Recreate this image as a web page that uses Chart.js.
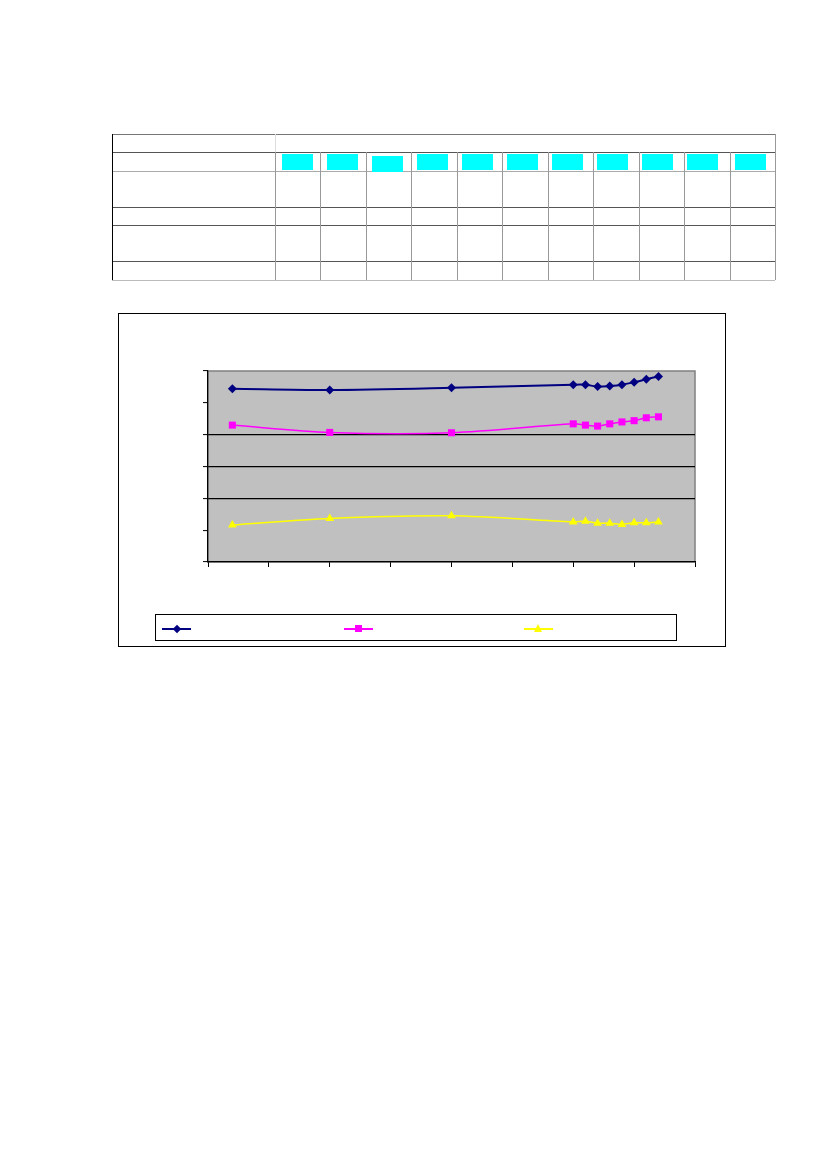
<!DOCTYPE html>
<html>
<head>
<meta charset="utf-8">
<script src="https://cdn.jsdelivr.net/npm/chart.js@4/dist/chart.umd.min.js"></script>
<style>
  html, body { margin: 0; padding: 0; background: #fff; }
  body { width: 826px; height: 1169px; position: relative; overflow: hidden; font-family: "Liberation Sans", Arial, sans-serif; }
  .ln { position: absolute; }
  .cy { position: absolute; background: #00ffff; }
  #chartBox { position: absolute; left: 118px; top: 313px; width: 606px; height: 332px; border: 1px solid #000; }
  #cw { position: absolute; left: 119px; top: 314px; width: 606px; height: 332px; }
  #legend { position: absolute; left: 155px; top: 614px; width: 520px; height: 25px; border: 1px solid #000; background: #fff; }
  .lgl { position: absolute; height: 1.5px; top: 13px; }
</style>
</head>
<body>
<div id="table"></div>
<div id="chartBox"></div>
<div id="cw"><canvas id="c"></canvas></div>
<div id="legend"></div>
<script>
// ---- data ----
const years = [1982, 1990, 2000, 2010, 2011, 2012, 2013, 2014, 2015, 2016, 2017];
const seriesA = [54.4, 54.0, 54.7, 55.7, 55.7, 55.1, 55.3, 55.7, 56.5, 57.4, 58.3];
const seriesB = [43.0, 40.7, 40.6, 43.4, 43.0, 42.7, 43.4, 44.0, 44.4, 45.3, 45.6];
const seriesC = [11.6, 13.7, 14.5, 12.6, 12.8, 12.2, 12.2, 11.8, 12.3, 12.3, 12.6];
const seriesNames = ['', '', ''];
const tableRowLabels = ['', '', '', '', '', ''];

// ---- table (empty cells, as in reference) ----
const T = document.getElementById('table');
function line(x, y, w, h, c) {
  const d = document.createElement('div');
  d.className = 'ln';
  d.style.cssText = `left:${x}px;top:${y}px;width:${w}px;height:${h}px;background:${c}`;
  T.appendChild(d);
}
const tl = 112, tr = 775, c0 = 274.5, cw = 45.5;
const rows = [[134, '#777'], [152, '#555'], [170.5, '#aaa'], [207, '#555'], [225, '#555'], [261, '#555'], [279.5, '#bbb']];
rows.forEach(([y, c]) => line(tl, y, tr - tl, 1.2, c));
line(tl, 134, 1.3, 146, '#000');
line(c0, 134, 1, 18, '#ddd');
for (let i = 0; i <= 11; i++) {
  line(c0 + i * cw, 152, 1.3, 128, '#999');
}
line(tr, 134, 1.3, 146, '#999');
const boxLefts = [282, 327, 372, 417, 462, 507, 552, 597, 642, 687, 735];
boxLefts.forEach((x, i) => {
  const d = document.createElement('div');
  d.className = 'cy';
  const top = i === 2 ? 155.5 : 154;
  d.style.cssText = `left:${x}px;top:${top}px;width:31px;height:16px`;
  T.appendChild(d);
});

// ---- legend ----
const L = document.getElementById('legend');
const legendItems = [
  { x: 6, color: '#000080', shape: 'diamond' },
  { x: 188, color: '#ff00ff', shape: 'square' },
  { x: 368, color: '#ffff00', shape: 'triangle' }
];
legendItems.forEach(it => {
  const l = document.createElement('div');
  l.className = 'lgl';
  l.style.cssText += `left:${it.x}px;width:29px;background:${it.color}`;
  L.appendChild(l);
  const m = document.createElement('div');
  m.style.position = 'absolute';
  const cx = it.x + 14.5, cy = 13.7;
  if (it.shape === 'diamond') {
    m.style.cssText += `left:${cx - 3}px;top:${cy - 3}px;width:6px;height:6px;background:${it.color};transform:rotate(45deg)`;
  } else if (it.shape === 'square') {
    m.style.cssText += `left:${cx - 3.5}px;top:${cy - 3.5}px;width:7px;height:7px;background:${it.color}`;
  } else {
    m.style.cssText += `left:${cx - 4.5}px;top:${cy - 5}px;width:0;height:0;border-left:4.5px solid transparent;border-right:4.5px solid transparent;border-bottom:8px solid ${it.color}`;
  }
  L.appendChild(m);
});

// ---- chart ----
const plotBg = {
  id: 'plotBg',
  beforeDraw(chart) {
    const { ctx, chartArea: a } = chart;
    ctx.save();
    ctx.fillStyle = '#c0c0c0';
    ctx.fillRect(a.left, a.top, a.right - a.left, a.bottom - a.top);
    ctx.strokeStyle = '#808080';
    ctx.lineWidth = 1.5;
    ctx.strokeRect(a.left, a.top, a.right - a.left, a.bottom - a.top);
    ctx.restore();
  }
};
function pts(vals) { return years.map((x, i) => ({ x, y: vals[i] })); }
new Chart(document.getElementById('c'), {
  type: 'line',
  data: {
    datasets: [
      { label: seriesNames[0], data: pts(seriesA), borderColor: '#000080', backgroundColor: '#000080', borderWidth: 2, pointStyle: 'rectRot', pointRadius: 4.5, pointBorderWidth: 0, tension: 0.3 },
      { label: seriesNames[1], data: pts(seriesB), borderColor: '#ff00ff', backgroundColor: '#ff00ff', borderWidth: 1.5, pointStyle: 'rect', pointRadius: 5, pointBorderWidth: 0, tension: 0.3 },
      { label: seriesNames[2], data: pts(seriesC), borderColor: '#ffff00', backgroundColor: '#ffff00', borderWidth: 1.5, pointStyle: 'triangle', pointRadius: 5, pointBorderWidth: 0, tension: 0.3 }
    ]
  },
  options: {
    responsive: true,
    maintainAspectRatio: false,
    animation: false,
    layout: { padding: { left: 89, top: 57, right: 30, bottom: 84 } },
    plugins: { legend: { display: false }, tooltip: { enabled: false }, title: { display: false } },
    scales: {
      x: {
        type: 'linear', min: 1980, max: 2020,
        ticks: { display: false, stepSize: 5 },
        grid: { drawOnChartArea: false, drawTicks: true, tickLength: 5, tickColor: '#000', tickWidth: 1 },
        border: { display: true, color: '#000', width: 1.2 },
        afterFit(s) { s.height = 0; }
      },
      y: {
        min: 0, max: 60,
        ticks: { display: false, stepSize: 10 },
        grid: {
          drawTicks: true, tickLength: 5, tickColor: '#000', tickWidth: 1,
          lineWidth: 1.2,
          color: ctx => (ctx.tick && [20, 30, 40].includes(ctx.tick.value)) ? '#000' : 'rgba(0,0,0,0)'
        },
        border: { display: true, color: '#000', width: 1.2 },
        afterFit(s) { s.width = 0; }
      }
    }
  },
  plugins: [plotBg]
});
</script>
</body>
</html>
